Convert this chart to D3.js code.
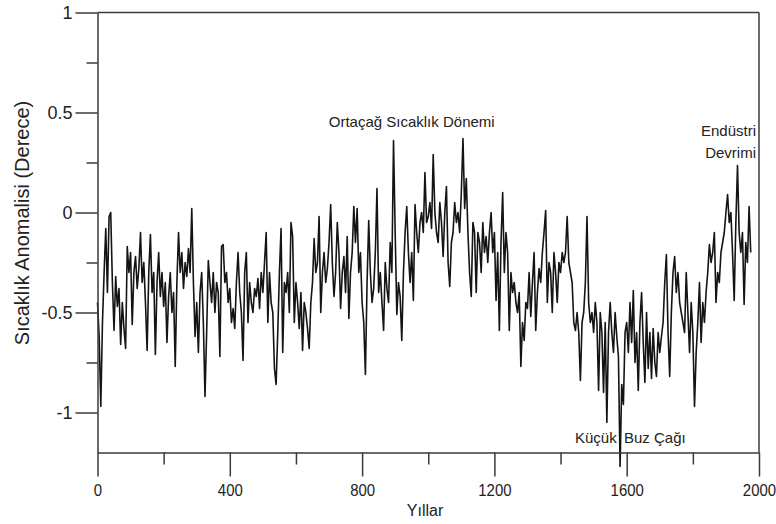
<!DOCTYPE html>
<html>
<head>
<meta charset="utf-8">
<script src="https://cdn.jsdelivr.net/npm/d3@7/dist/d3.min.js"></script>
<style>
  html, body { margin: 0; padding: 0; background: #fff; }
  svg { display: block; font-family: "Liberation Sans", Arial, sans-serif; }
</style>
</head>
<body>
<svg id="chart" width="776" height="524"></svg>
<script>
// ---- data (5-year steps starting at year 0) ----
const startYear = 0;
const stepYears = 5;
const anomaly = [
  -0.45,-0.62,-0.97,-0.55,-0.3,-0.08,-0.4,-0.02,0.0,-0.35,
  -0.59,-0.32,-0.47,-0.38,-0.66,-0.45,-0.58,-0.68,-0.17,-0.3,
  -0.2,-0.56,-0.3,-0.22,-0.38,-0.28,-0.1,-0.35,-0.25,-0.45,
  -0.69,-0.3,-0.11,-0.4,-0.3,-0.71,-0.35,-0.2,-0.42,-0.3,
  -0.47,-0.35,-0.65,-0.42,-0.3,-0.5,-0.4,-0.77,-0.35,-0.1,
  -0.3,-0.2,-0.38,-0.25,-0.32,-0.18,-0.3,0.02,-0.35,-0.62,
  -0.45,-0.7,-0.4,-0.3,-0.55,-0.92,-0.6,-0.24,-0.35,-0.45,
  -0.3,-0.5,-0.35,-0.4,-0.72,-0.17,-0.16,-0.35,-0.3,-0.45,
  -0.38,-0.55,-0.48,-0.58,-0.35,-0.2,-0.4,-0.5,-0.74,-0.3,
  -0.2,-0.55,-0.35,-0.45,-0.5,-0.38,-0.42,-0.33,-0.48,-0.3,
  -0.4,-0.25,-0.1,-0.55,-0.3,-0.45,-0.5,-0.78,-0.86,-0.6,
  -0.3,-0.08,-0.7,-0.35,-0.4,-0.3,-0.5,-0.05,-0.12,-0.55,
  -0.35,-0.45,-0.58,-0.4,-0.69,-0.45,-0.5,-0.58,-0.68,-0.45,
  -0.35,-0.13,-0.3,-0.25,-0.02,-0.5,-0.3,-0.2,-0.35,-0.28,
  -0.15,0.04,-0.25,-0.42,-0.3,-0.05,-0.2,-0.48,-0.3,-0.22,
  -0.4,-0.12,-0.53,-0.3,-0.2,0.03,-0.15,0.02,-0.3,-0.2,
  -0.45,-0.55,-0.81,-0.35,-0.04,-0.3,-0.45,-0.38,-0.2,0.12,
  -0.4,-0.3,-0.45,-0.59,-0.25,-0.38,-0.45,-0.15,-0.3,0.36,
  -0.1,-0.51,-0.35,-0.42,-0.64,-0.3,-0.1,0.03,-0.2,-0.35,
  -0.2,-0.44,0.04,-0.1,-0.2,-0.05,0.0,-0.1,0.2,-0.05,
  -0.02,0.05,-0.08,0.29,0.0,-0.1,-0.15,0.05,-0.05,-0.22,
  0.0,0.13,-0.25,-0.37,-0.15,-0.1,0.05,-0.05,0.0,-0.1,
  0.1,0.37,0.02,0.17,-0.1,-0.3,-0.42,-0.05,-0.1,-0.4,
  -0.1,-0.15,-0.3,-0.05,-0.2,-0.12,-0.25,-0.1,0.0,-0.2,
  -0.1,-0.44,-0.2,-0.59,-0.15,0.1,-0.3,-0.1,-0.2,-0.59,
  -0.3,-0.4,-0.35,-0.45,-0.5,-0.4,-0.77,-0.55,-0.64,-0.45,
  -0.48,-0.3,-0.52,-0.35,-0.2,-0.59,-0.4,-0.28,-0.35,-0.2,
  -0.1,0.01,-0.45,-0.25,-0.3,-0.5,-0.2,-0.3,-0.45,-0.25,
  -0.3,-0.2,-0.25,-0.2,-0.02,-0.25,-0.3,-0.35,-0.55,-0.59,
  -0.5,-0.6,-0.84,-0.55,-0.5,-0.35,-0.02,-0.45,-0.55,-0.5,
  -0.6,-0.45,-0.55,-0.89,-0.5,-0.6,-0.9,-0.55,-1.05,-0.6,
  -0.45,-0.6,-0.7,-0.5,-0.62,-0.72,-1.27,-0.86,-0.96,-0.6,
  -0.55,-0.7,-0.45,-0.65,-0.39,-0.75,-0.6,-0.89,-0.55,-0.4,
  -0.65,-0.85,-0.5,-0.78,-0.6,-0.83,-0.58,-0.75,-0.82,-0.6,
  -0.7,-0.62,-0.55,-0.35,-0.21,-0.6,-0.82,-0.5,-0.3,-0.22,
  -0.4,-0.3,-0.45,-0.5,-0.55,-0.6,-0.3,-0.5,-0.7,-0.45,
  -0.6,-0.97,-0.7,-0.55,-0.35,-0.65,-0.45,-0.55,-0.4,-0.3,
  -0.16,-0.25,-0.2,-0.1,-0.45,-0.3,-0.35,-0.2,-0.15,-0.1,
  0.0,0.09,-0.05,0.0,-0.2,-0.44,-0.05,0.235,-0.1,-0.2,
  -0.1,-0.46,-0.15,-0.25,0.03,-0.2
];
const xMajorTicks = [0, 400, 800, 1200, 1600, 2000];
const xMinorTicks = [200, 600, 1000, 1400, 1800];
const yMajorTicks = [-1, -0.5, 0, 0.5, 1];
const yMinorTicks = [-0.75, -0.25, 0.25, 0.75];
const xTitle = "Yıllar";
const yTitle = "Sıcaklık Anomalisi (Derece)";

// ---- layout ----
const svg = d3.select("#chart");
const plotL = 97.5, plotR = 759, plotT = 12.5, plotB = 452.5;
const x = d3.scaleLinear().domain([0, 2000]).range([plotL, plotR]);
const y = d3.scaleLinear().domain([-1.2, 1]).range([plotB, plotT]);
const axisColor = "#3a3a3a";

const points = anomaly.map((v, i) => ({ year: startYear + i * stepYears, v }));

// frame top & right
svg.append("line").attr("x1", plotL).attr("x2", plotR).attr("y1", plotT).attr("y2", plotT)
  .attr("stroke", axisColor).attr("stroke-width", 1.5);
svg.append("line").attr("x1", plotR).attr("x2", plotR).attr("y1", plotT).attr("y2", plotB)
  .attr("stroke", axisColor).attr("stroke-width", 1.5);

// data line
svg.append("path").datum(points)
  .attr("fill", "none")
  .attr("stroke", "#141414")
  .attr("stroke-width", 1.6)
  .attr("stroke-linejoin", "round")
  .attr("d", d3.line().x(d => x(d.year)).y(d => y(d.v)));

// x axis
const gx = svg.append("g").attr("transform", `translate(0,${plotB})`);
gx.call(d3.axisBottom(x).tickValues(xMajorTicks).tickSize(24).tickSizeOuter(0).tickFormat(d3.format("d")));
const gxm = svg.append("g").attr("transform", `translate(0,${plotB})`);
gxm.call(d3.axisBottom(x).tickValues(xMinorTicks).tickSize(12).tickSizeOuter(0).tickFormat(""));
gxm.select(".domain").remove();
[gx, gxm].forEach(g => {
  g.selectAll(".domain, .tick line").attr("stroke", axisColor).attr("stroke-width", 1.5);
});
gx.selectAll(".tick text").attr("dy", 0).attr("y", 44)
  .attr("transform", "scale(0.88,1)")
  .attr("font-size", 17).attr("fill", "#222")
  .attr("font-family", "'Liberation Sans', Arial, sans-serif");

// y axis
const gy = svg.append("g").attr("transform", `translate(${plotL},0)`);
gy.call(d3.axisLeft(y).tickValues(yMajorTicks).tickSize(22).tickSizeOuter(0)
  .tickFormat(d => d === 0 ? "0" : String(d)));
const gym = svg.append("g").attr("transform", `translate(${plotL},0)`);
gym.call(d3.axisLeft(y).tickValues(yMinorTicks).tickSize(11).tickSizeOuter(0).tickFormat(""));
gym.select(".domain").remove();
[gy, gym].forEach(g => {
  g.selectAll(".domain, .tick line").attr("stroke", axisColor).attr("stroke-width", 1.5);
});
gy.selectAll(".tick text").attr("x", -25).attr("dy", "0.36em")
  .attr("font-size", 18).attr("fill", "#222")
  .attr("font-family", "'Liberation Sans', Arial, sans-serif");

// titles
svg.append("text").attr("x", 425).attr("y", 516).attr("text-anchor", "middle")
  .attr("font-size", 16).attr("fill", "#222").text(xTitle);
svg.append("text").attr("transform", "translate(29,223) rotate(-90)")
  .attr("text-anchor", "middle").attr("font-size", 20).attr("fill", "#222").text(yTitle);

// annotations
const ann = svg.append("g").attr("font-size", 15).attr("fill", "#222");
ann.append("text").attr("x", x(950)).attr("y", 127).attr("text-anchor", "middle").text("Ortaçağ Sıcaklık Dönemi");
ann.append("text").attr("x", 756).attr("y", 136).attr("text-anchor", "end").text("Endüstri");
ann.append("text").attr("x", 756).attr("y", 158).attr("text-anchor", "end").text("Devrimi");
ann.append("text").attr("x", 575).attr("y", 443).text("Küçük");
ann.append("text").attr("x", 624).attr("y", 443).text("Buz Çağı");
</script>
</body>
</html>
